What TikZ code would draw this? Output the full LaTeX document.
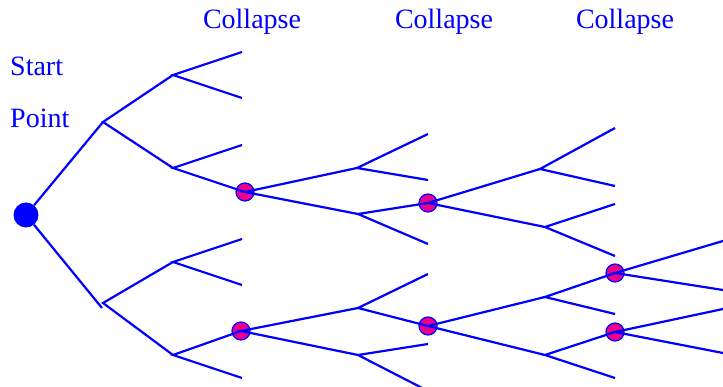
\documentclass[tikz,border=0pt]{standalone}
\usepackage{fontspec}
\setmainfont{Liberation Serif}
\usetikzlibrary{positioning}

\begin{document}
\begin{tikzpicture}[x=1pt,y=-1pt,
  branch/.style={blue, line width=2.2pt},
  cdot/.style={circle, draw=blue, fill=magenta, line width=1.2pt, minimum size=18pt, inner sep=0pt},
  lbl/.style={text=blue, font=\rmfamily\fontsize{28}{30}\selectfont, inner sep=0pt}]
\useasboundingbox (0,0) rectangle (723,387);
% labels
\node[lbl, anchor=base] at (252,29) (col1) {Collapse};
\node[lbl, anchor=base] at (444,29) (col2) {Collapse};
\node[lbl, anchor=base] at (625,29) (col3) {Collapse};
\node[lbl, anchor=base west] at (10,76) (start) {Start};
\node[lbl, anchor=base west] at (10,128) (point) {Point};
% root and junctions
\node[circle, fill=blue, minimum size=25pt, inner sep=0pt] at (26,215) (root) {};
\coordinate (a1) at (103,122);
\coordinate (a2) at (103,303);
\coordinate (a2end) at (102,308);
\coordinate (b1) at (173,75);
\coordinate (b2) at (173,168);
\coordinate (b3) at (173,262);
\coordinate (b4) at (173,355);
\coordinate (l1) at (242,52);
\coordinate (l2) at (242,98);
\coordinate (l3) at (242,145);
\coordinate (l4) at (242,239);
\coordinate (l5) at (242,285);
\coordinate (l6) at (242,378);
% collapse points
\node[cdot] at (245,192) (c1) {};
\node[cdot] at (241,331) (c2) {};
\node[cdot] at (428,203) (c3) {};
\node[cdot] at (428,326) (c4) {};
\node[cdot] at (615,273) (c5) {};
\node[cdot] at (615,332) (c6) {};
\coordinate (j1) at (357,168);
\coordinate (j2) at (358,214);
\coordinate (j3) at (540,169);
\coordinate (j4) at (545,227);
\coordinate (j5) at (358,308);
\coordinate (j6) at (358,355);
\coordinate (j7) at (545,297);
\coordinate (j8) at (545,355);
\coordinate (l7) at (428,134);
\coordinate (l8) at (428,180);
\coordinate (l9) at (428,244);
\coordinate (l10) at (615,128);
\coordinate (l11) at (615,186);
\coordinate (l12) at (615,204);
\coordinate (l13) at (615,256);
\coordinate (l14) at (428,274);
\coordinate (l15) at (428,344);
\coordinate (l16) at (428,391);
\coordinate (l17) at (615,314);
\coordinate (l18) at (615,378);
\coordinate (l19) at (723,241);
\coordinate (l20) at (723,290);
\coordinate (l21) at (723,309);
\coordinate (l22) at (723,353);
% branches
\draw[branch] (a1) -- (root) -- (a2end);
\draw[branch] (b1) -- (a1) -- (b2);
\draw[branch] (b3) -- (a2) -- (b4);
\draw[branch] (l1) -- (b1) -- (l2);
\draw[branch] (l3) -- (b2) -- (c1.center);
\draw[branch] (l4) -- (b3) -- (l5);
\draw[branch] (c2.center) -- (b4) -- (l6);
\draw[branch] (j1) -- (c1.center) -- (j2);
\draw[branch] (l7) -- (j1) -- (l8);
\draw[branch] (c3.center) -- (j2) -- (l9);
\draw[branch] (j3) -- (c3.center) -- (j4);
\draw[branch] (l10) -- (j3) -- (l11);
\draw[branch] (l12) -- (j4) -- (l13);
\draw[branch] (j5) -- (c2.center) -- (j6);
\draw[branch] (l14) -- (j5) -- (c4.center);
\draw[branch] (l15) -- (j6) -- (l16);
\draw[branch] (j7) -- (c4.center) -- (j8);
\draw[branch] (c5.center) -- (j7) -- (l17);
\draw[branch] (c6.center) -- (j8) -- (l18);
\draw[branch] (l19) -- (c5.center) -- (l20);
\draw[branch] (l21) -- (c6.center) -- (l22);
\end{tikzpicture}
\end{document}
